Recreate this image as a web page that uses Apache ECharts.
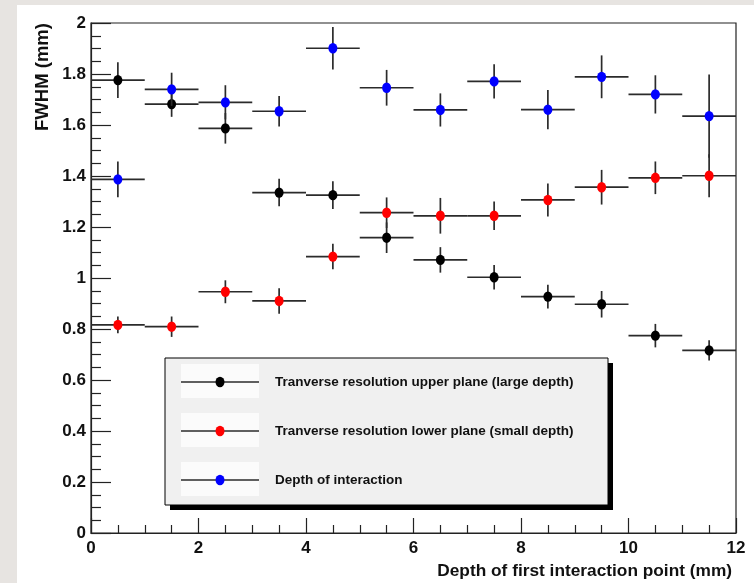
<!DOCTYPE html>
<html>
<head>
<meta charset="utf-8">
<script src="https://cdn.jsdelivr.net/npm/echarts@6/dist/echarts.min.js"></script>
<style>
  html, body { margin: 0; padding: 0; background: #e7e4e1; }
  #chart { width: 754px; height: 583px; }
</style>
</head>
<body>
<div id="chart"></div>
<script>
// Bin centres along the depth of the first interaction point (mm)
const binCenters = [0.5, 1.5, 2.5, 3.5, 4.5, 5.5, 6.5, 7.5, 8.5, 9.5, 10.5, 11.5];
const binHalfWidth = 0.5;

// Transverse resolution, upper plane (large depth)
const upperFwhm = [1.776, 1.682, 1.587, 1.335, 1.325, 1.158, 1.071, 1.003, 0.927, 0.897, 0.774, 0.716];
const upperErr  = [0.070, 0.050, 0.060, 0.054, 0.054, 0.060, 0.050, 0.048, 0.047, 0.052, 0.046, 0.040];

// Transverse resolution, lower plane (small depth)
const lowerFwhm = [0.816, 0.809, 0.946, 0.910, 1.084, 1.256, 1.244, 1.244, 1.306, 1.356, 1.393, 1.401];
const lowerErr  = [0.033, 0.040, 0.045, 0.050, 0.050, 0.060, 0.070, 0.056, 0.065, 0.068, 0.064, 0.084];

// Depth of interaction resolution
const doiFwhm = [1.387, 1.740, 1.689, 1.654, 1.901, 1.746, 1.659, 1.771, 1.660, 1.789, 1.720, 1.635];
const doiErr  = [0.070, 0.065, 0.067, 0.060, 0.083, 0.070, 0.065, 0.067, 0.077, 0.084, 0.075, 0.163];

const seriesNames = [
  'Tranverse resolution upper plane (large depth)',
  'Tranverse resolution lower plane (small depth)',
  'Depth of interaction'
];
const seriesColors = ['#000000', '#ff0000', '#0000ff'];

const xTitle = 'Depth of first interaction point (mm)';
const yTitle = 'FWHM (mm)';

const LINE = '#2b2b2b';
const FONT = '"Liberation Sans", Arial, Helvetica, sans-serif';

function points(vals, errs) {
  return binCenters.map((x, i) => [x, vals[i], errs[i]]);
}

// Slightly tall round marker
function marker(cx, cy, color, z) {
  const m = { type: 'circle', x: cx, y: cy, scaleY: 1.15,
              shape: { cx: 0, cy: 0, r: 4.5 }, style: { fill: color } };
  if (z !== undefined) m.z = z;
  return m;
}

// Each point: horizontal bin width, vertical error bar, filled marker
function errorRenderer(color) {
  return function (params, api) {
    const x = api.value(0), y = api.value(1), e = api.value(2);
    const pL = api.coord([x - binHalfWidth, y]);
    const pR = api.coord([x + binHalfWidth, y]);
    const pT = api.coord([x, y + e]);
    const pB = api.coord([x, y - e]);
    const c = api.coord([x, y]);
    return {
      type: 'group',
      children: [
        { type: 'line', shape: { x1: pL[0], y1: pL[1], x2: pR[0], y2: pR[1] },
          style: { stroke: LINE, lineWidth: 1.7 } },
        { type: 'line', shape: { x1: pT[0], y1: pT[1], x2: pB[0], y2: pB[1] },
          style: { stroke: LINE, lineWidth: 1.7 } },
        marker(c[0], c[1], color)
      ]
    };
  };
}

const datasets = [
  points(upperFwhm, upperErr),
  points(lowerFwhm, lowerErr),
  points(doiFwhm, doiErr)
];

// Legend box drawn as graphics: shadow, panel, entry samples and labels
const legendX = 165, legendY = 358, legendW = 443, legendH = 147;
const rowY = [382, 431, 480];
const legendGraphics = [
  { type: 'rect', z: 100, shape: { x: legendX + 5, y: legendY + 5, width: legendW, height: legendH },
    style: { fill: '#000' } },
  { type: 'rect', z: 101, shape: { x: legendX, y: legendY, width: legendW, height: legendH },
    style: { fill: '#f0f0f0', stroke: '#000', lineWidth: 1 } }
];
seriesNames.forEach((name, i) => {
  const y = rowY[i];
  legendGraphics.push(
    { type: 'rect', z: 102, shape: { x: 181, y: y - 18, width: 78, height: 34 },
      style: { fill: '#fbfbfb' } },
    { type: 'line', z: 103, shape: { x1: 181, y1: y, x2: 259, y2: y },
      style: { stroke: LINE, lineWidth: 1.7 } },
    marker(220, y, seriesColors[i], 104),
    { type: 'text', z: 104, x: 275, y: y,
      style: { text: name, fill: '#111', font: 'bold 13.5px ' + FONT,
               textAlign: 'left', textVerticalAlign: 'middle' } }
  );
});

const chart = echarts.init(document.getElementById('chart'));
chart.setOption({
  animation: false,
  backgroundColor: '#e7e4e1',
  graphic: [
    { type: 'rect', z: -100, shape: { x: 17, y: 5, width: 737, height: 578 },
      style: { fill: '#ffffff' } },
    { type: 'text', z: 10, x: 732, y: 571,
      style: { text: xTitle, fill: '#111', font: 'bold 17.3px ' + FONT,
               textAlign: 'right', textVerticalAlign: 'middle' } },
    { type: 'text', z: 10, x: 43, y: 77, rotation: Math.PI / 2,
      style: { text: yTitle, fill: '#111', font: 'bold 18.5px ' + FONT,
               textAlign: 'center', textVerticalAlign: 'middle' } }
  ].concat(legendGraphics),
  grid: {
    left: 91, top: 23, right: 18, bottom: 50,
    show: true, borderColor: '#222', borderWidth: 1.2, backgroundColor: 'transparent'
  },
  xAxis: {
    type: 'value', min: 0, max: 12, interval: 2,
    axisLine: { lineStyle: { color: '#222', width: 1.2 } },
    axisTick: { inside: true, length: 15, lineStyle: { color: '#222', width: 1.2 } },
    minorTick: { show: true, splitNumber: 4, length: 8, lineStyle: { color: '#222', width: 1.2 } },
    splitLine: { show: false },
    axisLabel: { color: '#111', fontWeight: 'bold', fontSize: 17, fontFamily: FONT, margin: 7 }
  },
  yAxis: {
    type: 'value', min: 0, max: 2, interval: 0.2,
    axisLine: { show: true, lineStyle: { color: '#222', width: 1.2 } },
    axisTick: { show: true, inside: true, length: 20, lineStyle: { color: '#222', width: 1.2 } },
    minorTick: { show: true, splitNumber: 4, length: 10, lineStyle: { color: '#222', width: 1.2 } },
    splitLine: { show: false },
    axisLabel: { color: '#111', fontWeight: 'bold', fontSize: 17, fontFamily: FONT, margin: 5 }
  },
  series: datasets.map((data, i) => ({
    type: 'custom',
    name: seriesNames[i],
    data: data,
    encode: { x: 0, y: 1 },
    clip: false,
    renderItem: errorRenderer(seriesColors[i])
  }))
});
</script>
</body>
</html>
